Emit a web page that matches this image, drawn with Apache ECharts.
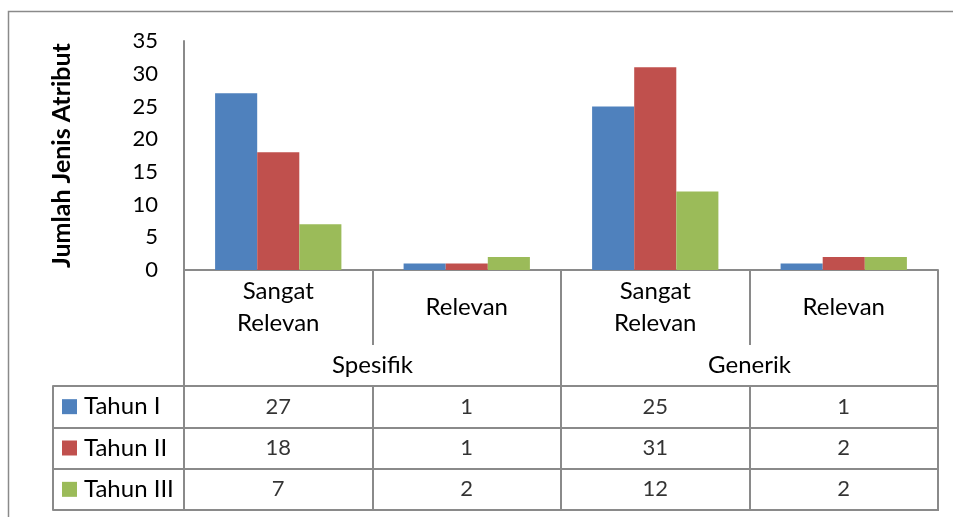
<!DOCTYPE html>
<html>
<head>
<meta charset="utf-8">
<script src="https://cdn.jsdelivr.net/npm/echarts@6/dist/echarts.min.js"></script>
<style>
html,body{margin:0;padding:0;background:#fff;}
#chart{width:953px;height:517px;}
</style>
</head>
<body>
<div id="chart"></div>
<script>
const categories = ['Sangat\nRelevan', 'Relevan', 'Sangat\nRelevan', 'Relevan'];
const groups = ['Spesifik', 'Generik'];
const seriesNames = ['Tahun I', 'Tahun II', 'Tahun III'];
const tahunI = [27, 1, 25, 1];
const tahunII = [18, 1, 31, 2];
const tahunIII = [7, 2, 12, 2];
const yAxisTitle = 'Jumlah Jenis Atribut';
const yMin = 0, yMax = 35, yStep = 5;

const colors = ['#4F81BD', '#C0504D', '#9BBB59'];
const seriesValues = [tahunI, tahunII, tahunIII];
const FONT = 'Lato';
const LINE = '#8a8a8a';
const FS = 24;
const FN = 22;

const chart = echarts.init(document.getElementById('chart'));

const tableData = [];
seriesValues.forEach((vals, r) => vals.forEach((v, c) => tableData.push([c, r, v])));

const rich = {};
colors.forEach((c, i) => { rich['s' + i] = { width: 15, height: 15, backgroundColor: c }; });
rich.t = { fontSize: FS, fontFamily: FONT, color: '#000', padding: [0, 0, 0, 7] };

chart.setOption({
  animation: false,
  backgroundColor: '#fff',
  textStyle: { fontFamily: FONT },
  graphic: [{
    type: 'rect', silent: true,
    shape: { x: 8.5, y: 11.5, width: 1000, height: 600 },
    style: { fill: 'none', stroke: LINE, lineWidth: 1.5 }
  }],
  grid: [
    { left: 184, right: 15, top: 41, bottom: 247 },
    { left: 184, right: 15, top: 386, bottom: 7, show: true, borderColor: LINE, borderWidth: 2 }
  ],
  xAxis: [
    {
      type: 'category', gridIndex: 0, data: categories, position: 'bottom',
      axisLine: { show: true, lineStyle: { color: LINE, width: 2 } },
      axisTick: { show: true, interval: 0, length: 75, lineStyle: { color: LINE, width: 2 } },
      axisLabel: { interval: 0, fontSize: FS, fontFamily: FONT, color: '#000', lineHeight: 32, verticalAlign: 'middle', margin: 37 }
    },
    {
      type: 'category', gridIndex: 0, data: groups, position: 'bottom', offset: 75,
      axisLine: { show: false },
      axisTick: { show: true, interval: 0, length: 41, lineStyle: { color: LINE, width: 2 } },
      axisLabel: { interval: 0, fontSize: FS, fontFamily: FONT, color: '#000', verticalAlign: 'middle', margin: 20 }
    },
    {
      type: 'category', gridIndex: 1, data: categories,
      axisLine: { show: true, lineStyle: { color: LINE, width: 2 } },
      axisTick: { show: false }, axisLabel: { show: false },
      splitLine: { show: true, interval: 0, lineStyle: { color: LINE, width: 2 } }
    }
  ],
  yAxis: [
    {
      type: 'value', gridIndex: 0, min: yMin, max: yMax, interval: yStep,
      name: yAxisTitle, nameLocation: 'middle', nameRotate: 90, nameGap: 110,
      nameTextStyle: { fontSize: 25, fontWeight: 'bold', fontFamily: FONT, color: '#000' },
      axisLine: { show: true, lineStyle: { color: LINE, width: 2 } },
      axisTick: { show: false },
      splitLine: { show: false },
      axisLabel: { fontSize: FN, fontFamily: FONT, color: '#000', margin: 26 }
    },
    {
      type: 'category', gridIndex: 1, data: seriesNames, inverse: true,
      axisLine: { show: true, lineStyle: { color: LINE, width: 2 } },
      axisTick: { show: true, interval: 0, length: 131, lineStyle: { color: LINE, width: 2 } },
      splitLine: { show: true, interval: 0, lineStyle: { color: LINE, width: 2 } },
      axisLabel: {
        interval: 0, align: 'left', margin: 122,
        formatter: (v, i) => '{s' + i + '|}{t|' + v + '}',
        rich: rich
      }
    },
    {
      type: 'category', gridIndex: 1, data: seriesNames, inverse: true, position: 'left', offset: 131,
      axisLine: { show: true, lineStyle: { color: LINE, width: 2 } },
      axisTick: { show: false }, axisLabel: { show: false }
    }
  ],
  series: seriesValues.map((vals, i) => ({
    type: 'bar', name: seriesNames[i], xAxisIndex: 0, yAxisIndex: 0,
    data: vals, barGap: 0, barCategoryGap: '33%',
    itemStyle: { color: colors[i] }
  })).concat([{
    type: 'scatter', xAxisIndex: 2, yAxisIndex: 1, data: tableData,
    symbolSize: 1, itemStyle: { color: 'rgba(0,0,0,0)' }, silent: true,
    label: { show: true, position: 'inside', formatter: p => String(p.value[2]), fontSize: FN, fontFamily: FONT, color: '#000' }
  }])
});
</script>
</body>
</html>
